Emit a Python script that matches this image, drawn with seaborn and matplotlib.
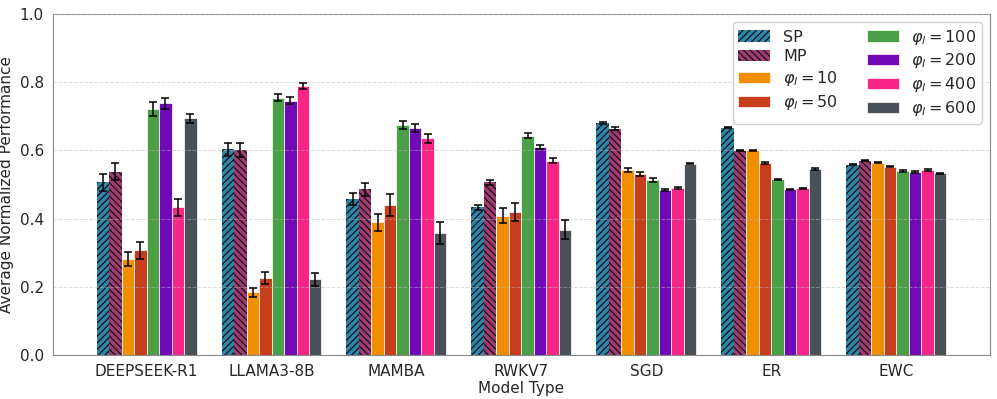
import seaborn as sns
import matplotlib.pyplot as plt
import pandas as pd

models = ['DEEPSEEK-R1', 'LLAMA3-8B', 'MAMBA', 'RWKV7', 'SGD', 'ER', 'EWC']
methods = ['SP', 'MP', r'$\varphi_l = 10$', r'$\varphi_l = 50$', r'$\varphi_l = 100$',
           r'$\varphi_l = 200$', r'$\varphi_l = 400$', r'$\varphi_l = 600$']
colors = ['#2E86AB', '#A23B72', '#F18F01', '#C73E1D', '#4A9F47', '#7209B7', '#F72585', '#495057']

# mean per model, one list per method
sp   = [0.506, 0.603, 0.457, 0.433, 0.681, 0.667, 0.558]
mp   = [0.537, 0.601, 0.486, 0.506, 0.664, 0.599, 0.570]
p10  = [0.281, 0.184, 0.389, 0.409, 0.543, 0.600, 0.564]
p50  = [0.308, 0.226, 0.440, 0.419, 0.531, 0.562, 0.552]
p100 = [0.721, 0.755, 0.675, 0.643, 0.513, 0.515, 0.540]
p200 = [0.738, 0.746, 0.665, 0.611, 0.484, 0.486, 0.537]
p400 = [0.433, 0.790, 0.636, 0.570, 0.491, 0.489, 0.543]
p600 = [0.694, 0.222, 0.357, 0.367, 0.561, 0.546, 0.533]

sp_err   = [0.024, 0.018, 0.018, 0.007, 0.003, 0.002, 0.002]
mp_err   = [0.025, 0.020, 0.019, 0.007, 0.004, 0.002, 0.002]
p10_err  = [0.021, 0.014, 0.024, 0.023, 0.005, 0.002, 0.002]
p50_err  = [0.025, 0.017, 0.031, 0.026, 0.006, 0.003, 0.002]
p100_err = [0.020, 0.011, 0.011, 0.007, 0.006, 0.002, 0.002]
p200_err = [0.016, 0.011, 0.012, 0.006, 0.003, 0.002, 0.002]
p400_err = [0.024, 0.009, 0.013, 0.008, 0.003, 0.002, 0.002]
p600_err = [0.014, 0.020, 0.032, 0.028, 0.001, 0.002, 0.002]

means = [sp, mp, p10, p50, p100, p200, p400, p600]
errs = [sp_err, mp_err, p10_err, p50_err, p100_err, p200_err, p400_err, p600_err]

rows = []
for m, vals in zip(methods, means):
    for mod, v in zip(models, vals):
        rows.append({'Model Type': mod, 'Method': m, 'Value': v})
df = pd.DataFrame(rows)

sns.set_style('white')
plt.rcParams['font.family'] = ['DejaVu Sans']
plt.rcParams['hatch.linewidth'] = 0.9
fig, ax = plt.subplots(figsize=(9.97, 3.99), dpi=100)
fig.subplots_adjust(left=0.053, right=0.993, top=0.965, bottom=0.11)

sns.barplot(data=df, x='Model Type', y='Value', hue='Method', hue_order=methods,
            palette=colors, saturation=1, errorbar=None, width=0.8, ax=ax,
            edgecolor='white', linewidth=0.5, legend=False)

bars = list(ax.containers)
hatches = ['/////', '\\\\\\\\\\', None, None, None, None, None, None]
for cont, h, e in zip(bars, hatches, errs):
    for p, err in zip(cont.patches, e):
        if h:
            p.set_hatch(h)
            p.set_edgecolor('#111111')
            p.set_linewidth(0)
        ax.errorbar(p.get_x() + p.get_width() / 2, p.get_height(), yerr=err,
                    fmt='none', ecolor='black', elinewidth=1.1, capsize=3, capthick=1.1,
                    zorder=4)

ax.set_ylim(0, 1.0)
ax.set_xlim(-0.75, 6.75)
ax.set_ylabel('Average Normalized Performance', fontsize=11)
ax.set_xlabel('Model Type', fontsize=11, labelpad=1)
ax.tick_params(labelsize=11, length=3, color='#888888')
ax.set_axisbelow(False)
ax.yaxis.grid(True, linestyle='--', color='#bbbbbb', linewidth=0.7, alpha=0.5, zorder=3)
for s in ax.spines.values():
    s.set_color('#888888')

handles = [c.patches[0] for c in bars]
ax.legend(handles, methods, ncol=2, loc='upper right', fontsize=11.5,
          frameon=True, fancybox=True, framealpha=0.9, columnspacing=1.8,
          handlelength=2.0, labelspacing=0.3, borderpad=0.35)

fig.savefig('out.png', dpi=100)
